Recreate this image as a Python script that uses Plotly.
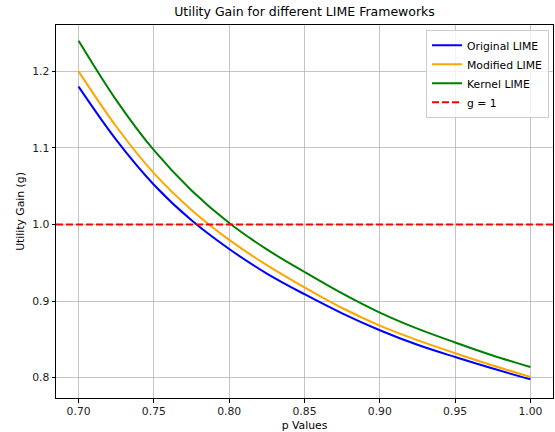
import plotly.graph_objects as go

# Data
p_values = [0.70, 0.725, 0.75, 0.775, 0.80, 0.825, 0.85, 0.875, 0.90, 0.925, 0.95, 0.975, 1.00]
original_lime = [1.180, 1.1105, 1.052, 1.0055, 0.968, 0.936, 0.909, 0.884, 0.862, 0.843, 0.827, 0.812, 0.798]
modified_lime = [1.200, 1.128, 1.067, 1.019, 0.980, 0.947, 0.918, 0.891, 0.868, 0.849, 0.832, 0.816, 0.801]
kernel_lime = [1.240, 1.1625, 1.097, 1.0445, 1.002, 0.9675, 0.938, 0.910, 0.885, 0.864, 0.846, 0.829, 0.814]
g_threshold = 1.0

x_ticks = [0.70, 0.75, 0.80, 0.85, 0.90, 0.95, 1.00]
y_ticks = [0.8, 0.9, 1.0, 1.1, 1.2]

FONT = "DejaVu Sans"
FS = 10.8

fig = go.Figure()
series = [
    ("Original LIME", original_lime, "#0000ff"),
    ("Modified LIME", modified_lime, "#ffa500"),
    ("Kernel LIME", kernel_lime, "#008000"),
]
for i, (name, vals, col) in enumerate(series):
    fig.add_trace(go.Scatter(
        x=p_values, y=vals, mode="lines", name=name,
        line=dict(color=col, width=2, shape="spline", smoothing=1.0),
        legendrank=i + 1,
    ))

fig.add_shape(
    type="line", xref="x domain", x0=0, x1=1, yref="y", y0=g_threshold, y1=g_threshold,
    line=dict(color="#ff0000", width=2, dash="7px,3px"),
    name="g = 1", showlegend=True, legendrank=4, layer="above",
)

axis_common = dict(
    showline=True, linecolor="black", linewidth=1, mirror=True,
    ticks="outside", ticklen=3.5, tickwidth=1, tickcolor="black",
    showgrid=True, gridcolor="rgba(176,176,176,0.75)", gridwidth=1,
    zeroline=False,
    tickfont=dict(family=FONT, size=FS, color="#222"),
)

fig.update_layout(
    width=555, height=432,
    paper_bgcolor="white", plot_bgcolor="white",
    margin=dict(l=56, r=2, t=25, b=34),
    font=dict(family=FONT, size=FS, color="black"),
    title=dict(text="Utility Gain for different LIME Frameworks",
               font=dict(family=FONT, size=12.5, color="black"),
               x=(56 + 553) / 2 / 555, xanchor="center", y=1 - 12 / 432, yanchor="middle"),
    xaxis=dict(range=[0.685, 1.015], tickvals=x_ticks, tickformat=".2f",
               title=dict(text="p Values", font=dict(family=FONT, size=FS), standoff=3),
               **axis_common),
    yaxis=dict(range=[0.7735, 1.2605], tickvals=y_ticks, tickformat=".1f",
               title=dict(text="Utility Gain (g)", font=dict(family=FONT, size=FS), standoff=5),
               **axis_common),
    legend=dict(x=0.992, xanchor="right", y=0.987, yanchor="top",
                bgcolor="rgba(255,255,255,0.8)", bordercolor="#cccccc", borderwidth=1,
                font=dict(family=FONT, size=FS, color="black"),
                tracegroupgap=0, itemwidth=30),
    showlegend=True,
)

fig.write_html(
    "out.html",
    config={"displayModeBar": False},
    post_script="document.body.style.margin='0';document.body.style.overflow='hidden';",
)
